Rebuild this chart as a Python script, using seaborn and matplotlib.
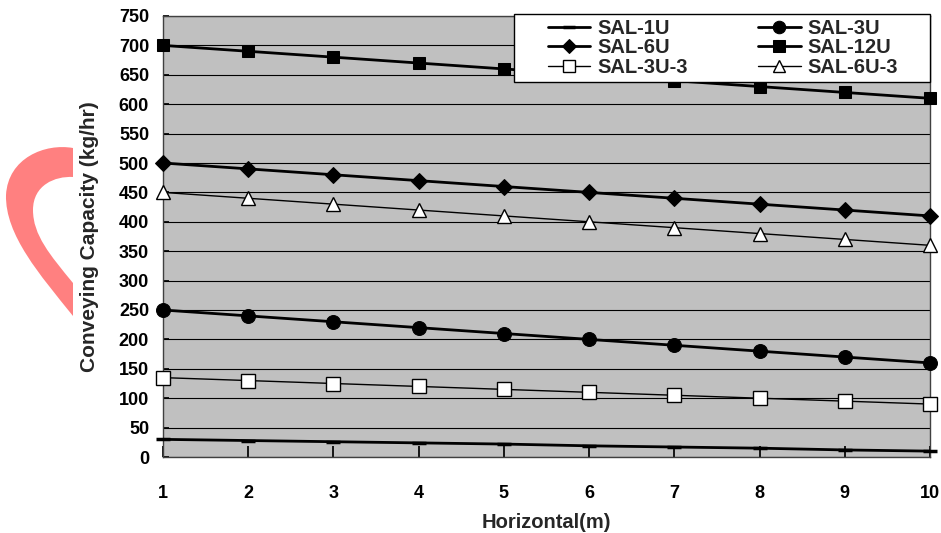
import matplotlib
matplotlib.use("Agg")
import matplotlib.pyplot as plt
import seaborn as sns
import pandas as pd
from matplotlib.path import Path
from matplotlib.patches import PathPatch, Rectangle

x_vals = [1, 2, 3, 4, 5, 6, 7, 8, 9, 10]
sal_1u = [30, 28, 26, 24, 22, 19, 17, 15, 12, 10]
sal_3u = [250, 240, 230, 220, 210, 200, 190, 180, 170, 160]
sal_6u = [500, 490, 480, 470, 460, 450, 440, 430, 420, 410]
sal_12u = [700, 690, 680, 670, 660, 650, 640, 630, 620, 610]
sal_3u_3 = [135, 130, 125, 120, 115, 110, 105, 100, 95, 90]
sal_6u_3 = [450, 440, 430, 420, 410, 400, 390, 380, 370, 360]
y_ticks = list(range(0, 751, 50))

series = [
    ("SAL-1U", sal_1u, dict(marker="_", ms=10, mew=2.5, mfc="black", lw=2.0)),
    ("SAL-3U", sal_3u, dict(marker="o", ms=10, mfc="black", lw=2.0)),
    ("SAL-6U", sal_6u, dict(marker="D", ms=8, mfc="black", lw=2.0)),
    ("SAL-12U", sal_12u, dict(marker="s", ms=9, mfc="black", lw=2.0)),
    ("SAL-3U-3", sal_3u_3, dict(marker="s", ms=10, mfc="white", mew=1.0, lw=1.0)),
    ("SAL-6U-3", sal_6u_3, dict(marker="^", ms=10, mfc="white", mew=1.0, lw=1.0)),
]

sns.set_theme(style="white")
plt.rcParams["font.family"] = ["Liberation Sans", "DejaVu Sans"]
plt.rcParams["font.weight"] = "bold"

fig = plt.figure(figsize=(9.41, 5.33), dpi=100)
ax = fig.add_axes([163/941, 1-457/533, (930-163)/941, (457-16)/533])
ax.set_facecolor("#C0C0C0")

for name, vals, style in series:
    df = pd.DataFrame({"x": x_vals, "y": vals})
    sns.lineplot(data=df, x="x", y="y", ax=ax, color="black", label=name,
                 mec="black", clip_on=False, zorder=3, **style)

ax.set_xlim(1, 10)
ax.set_ylim(0, 750)
ax.set_yticks(y_ticks)
ax.set_xticks(x_vals)
ax.yaxis.grid(True, color="black", lw=0.8)
ax.set_axisbelow(True)
for s in ax.spines.values():
    s.set_color("#404040")
    s.set_linewidth(1.0)
ax.tick_params(axis="y", direction="in", length=4, pad=10, labelsize=13, colors="black", left=True)
ax.tick_params(axis="x", direction="in", length=8, pad=20, labelsize=13, colors="black", bottom=True)
for lab in ax.get_xticklabels() + ax.get_yticklabels():
    lab.set_fontweight("bold")

ax.set_xlabel("Horizontal(m)", fontsize=14.5, fontweight="bold", labelpad=8)
ax.set_ylabel("Conveying Capacity (kg/hr)", fontsize=15, fontweight="bold", labelpad=14)

W, H = 941, 533

# legend box frame
ax.add_patch(Rectangle((514 / W, 1 - 82 / H), (930 - 514) / W, (82 - 14) / H,
                       transform=fig.transFigure, facecolor="white", edgecolor="black",
                       lw=1.0, zorder=4, clip_on=False))

handles, labels = ax.get_legend_handles_labels()
order = [0, 2, 4, 1, 3, 5]
leg = ax.legend([handles[i] for i in order], [labels[i] for i in order],
                loc="upper left", bbox_to_anchor=(548 / W, 1 - 19 / H),
                bbox_transform=fig.transFigure, ncol=2, fontsize=14.5,
                frameon=False, borderaxespad=0, handlelength=2.1, columnspacing=3.5,
                labelspacing=0.02, handletextpad=0.35, borderpad=0, markerscale=0.9)
leg.set_zorder(5)
for t in leg.get_texts():
    t.set_fontweight("bold")

# pink decorative shape on the left
def P(x, y):
    return (x / W, 1 - y / H)
verts = [P(73, 148), P(45, 143), P(8, 158), P(6, 195),
         P(5, 235), P(40, 275), P(73, 316),
         P(73, 283),
         P(50, 255), P(33, 235), P(33, 210),
         P(33, 185), P(55, 176), P(73, 177),
         P(73, 148)]
codes = [Path.MOVETO, Path.CURVE4, Path.CURVE4, Path.CURVE4,
         Path.CURVE4, Path.CURVE4, Path.CURVE4,
         Path.LINETO,
         Path.CURVE4, Path.CURVE4, Path.CURVE4,
         Path.CURVE4, Path.CURVE4, Path.CURVE4,
         Path.CLOSEPOLY]
fig.patches.append(PathPatch(Path(verts, codes), transform=fig.transFigure,
                             facecolor="#FF8080", edgecolor="none", zorder=0))

fig.savefig("out.png", dpi=100)
